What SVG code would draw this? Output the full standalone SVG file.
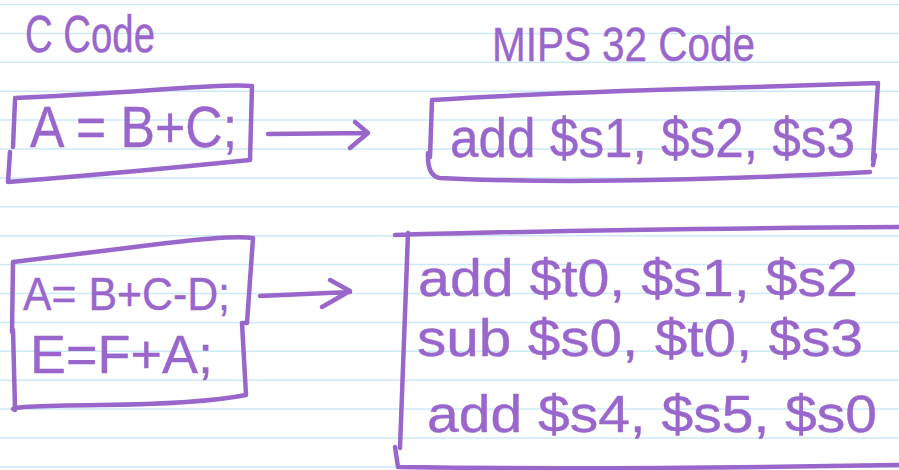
<svg xmlns="http://www.w3.org/2000/svg" width="899" height="470" viewBox="0 0 899 470">
  <style>
    .rule { stroke: #cde9f7; stroke-width: 1.5; }
    .ink { fill: none; stroke: #9966cc; stroke-width: 4.5; stroke-linecap: round; stroke-linejoin: round; }
    .hand { font-family: "Liberation Sans", "DejaVu Sans", sans-serif; fill: #9966cc; stroke: #9966cc; stroke-width: 0.4; stroke-linejoin: round; }
  </style>
  <rect width="899" height="470" fill="#ffffff"/>

  <!-- ruled notebook lines -->
  <g id="paper">
    <line class="rule" x1="0" y1="4.5" x2="899" y2="4.5"/>
    <line class="rule" x1="0" y1="33.4" x2="899" y2="33.4"/>
    <line class="rule" x1="0" y1="62.3" x2="899" y2="62.3"/>
    <line class="rule" x1="0" y1="91.2" x2="899" y2="91.2"/>
    <line class="rule" x1="0" y1="120.1" x2="899" y2="120.1"/>
    <line class="rule" x1="0" y1="149" x2="899" y2="149"/>
    <line class="rule" x1="0" y1="177.9" x2="899" y2="177.9"/>
    <line class="rule" x1="0" y1="206.8" x2="899" y2="206.8"/>
    <line class="rule" x1="0" y1="235.7" x2="899" y2="235.7"/>
    <line class="rule" x1="0" y1="264.6" x2="899" y2="264.6"/>
    <line class="rule" x1="0" y1="293.5" x2="899" y2="293.5"/>
    <line class="rule" x1="0" y1="322.4" x2="899" y2="322.4"/>
    <line class="rule" x1="0" y1="351.3" x2="899" y2="351.3"/>
    <line class="rule" x1="0" y1="380.2" x2="899" y2="380.2"/>
    <line class="rule" x1="0" y1="409.1" x2="899" y2="409.1"/>
    <line class="rule" x1="0" y1="438" x2="899" y2="438"/>
    <line class="rule" x1="0" y1="466.9" x2="899" y2="466.9"/>
  </g>

  <!-- headings -->
  <g id="heading-c">
    <text class="hand" x="25" y="52" font-size="52" textLength="130" lengthAdjust="spacingAndGlyphs">C Code</text>
  </g>
  <g id="heading-mips">
    <text class="hand" x="492" y="61" font-size="48" textLength="263" lengthAdjust="spacingAndGlyphs">MIPS 32 Code</text>
  </g>

  <!-- single statement in C -->
  <g id="c-single">
    <path class="ink" d="M15,98 Q100,94 167,89 T252,86 M252,86 L250,160 M250,160 Q133,172 8,182 M15,100 L13,147 M10,152 L8,182"/>
    <text class="hand" x="30" y="147" font-size="57" textLength="207" lengthAdjust="spacingAndGlyphs">A = B+C;</text>
  </g>

  <!-- single MIPS instruction -->
  <g id="mips-single">
    <path class="ink" d="M432,100 Q560,92 753,87 L878,83 M878,83 L873,160 M875,155 L873,165 M428,153 Q427,176 440,178 Q600,186 870,172 M432,100 L430,157"/>
    <text class="hand" x="450" y="157" font-size="56" textLength="405" lengthAdjust="spacingAndGlyphs">add  $s1, $s2, $s3</text>
  </g>

  <!-- two statements in C -->
  <g id="c-multi">
    <path class="ink" d="M13,262 Q100,251 167,243 T253,238 M253,238 L247,323 L242,323 L246,395 M246,395 Q200,404 100,405 T15,410 M13,262 L12,332 M13,330 L15,408"/>
    <text class="hand" x="23" y="310" font-size="47" textLength="207" lengthAdjust="spacingAndGlyphs">A= B+C-D;</text>
    <text class="hand" x="30" y="373" font-size="54" textLength="183" lengthAdjust="spacingAndGlyphs">E=F+A;</text>
  </g>

  <!-- MIPS instruction sequence -->
  <g id="mips-multi">
    <path class="ink" d="M395,235 Q600,229 899,227 M408,233 Q404,340 400,448 M395,447 L398,467 Q600,470 899,465"/>
    <text class="hand" x="418" y="296" font-size="52" textLength="440" lengthAdjust="spacingAndGlyphs">add $t0, $s1, $s2</text>
    <text class="hand" x="417" y="356" font-size="52" textLength="446" lengthAdjust="spacingAndGlyphs">sub $s0, $t0, $s3</text>
    <text class="hand" x="427" y="432" font-size="52" textLength="450" lengthAdjust="spacingAndGlyphs">add $s4, $s5, $s0</text>
  </g>

  <!-- arrows -->
  <g id="connectors">
    <path class="ink" d="M268,134 L368,133 M355,122 L368,133 L350,148"/>
    <path class="ink" stroke-width="6" d="M260,296 L350,292 M330,280 L350,291 L322,307"/>
  </g>
</svg>
